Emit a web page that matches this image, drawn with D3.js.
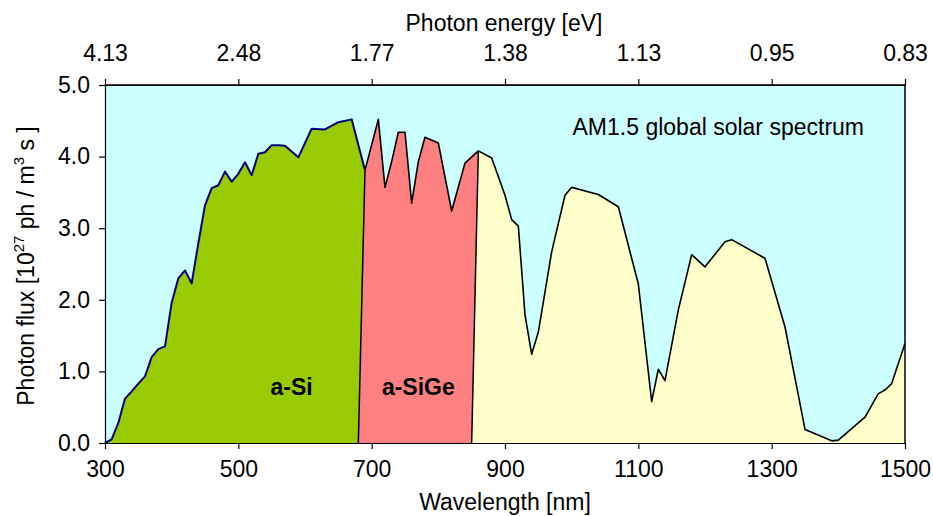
<!DOCTYPE html>
<html>
<head>
<meta charset="utf-8">
<title>AM1.5 photon flux</title>
<script src="https://cdn.jsdelivr.net/npm/d3@7"></script>
<style>
  body { margin: 0; background: #fff; }
  svg text { font-family: "Liberation Sans", Arial, sans-serif; fill: #000; }
  .axis path, .axis line { stroke: #000; stroke-width: 1.2px; }
  .axis text { font-size: 23px; font-family: "Liberation Sans", Arial, sans-serif; }
</style>
</head>
<body>
<script>
// AM1.5 global spectrum, photon flux
var wavelength = [300,310,320,330,340,350,360,370,380,390,400,410,420,430,440,450,460,470,480,490,
  500,510,520,530,540,550,560,570,590,610,630,650,670,690,710,720,730,740,750,760,770,780,800,820,
  840,860,880,900,910,920,930,940,950,970,990,1000,1040,1070,1100,1120,1130,1140,1160,1180,1200,
  1230,1240,1290,1320,1350,1390,1400,1440,1460,1470,1480,1500];
var flux = [0,0.05,0.28,0.62,0.72,0.83,0.93,1.20,1.31,1.35,1.96,2.30,2.41,2.23,2.79,3.32,3.56,3.60,3.79,3.65,
  3.76,3.92,3.74,4.04,4.06,4.16,4.16,4.15,3.99,4.39,4.38,4.48,4.52,3.81,4.52,3.57,3.93,4.34,4.34,3.35,
  3.93,4.27,4.19,3.24,3.91,4.08,3.98,3.46,3.12,3.03,1.79,1.24,1.55,2.67,3.46,3.57,3.47,3.30,2.22,0.58,
  1.03,0.87,1.86,2.63,2.46,2.81,2.84,2.58,1.62,0.19,0.03,0.04,0.36,0.69,0.74,0.83,1.39];

var wlTicks = [300,500,700,900,1100,1300,1500];
var energyLabels = ["4.13","2.48","1.77","1.38","1.13","0.95","0.83"];
var fluxTicks = [0,1,2,3,4,5];

// absorber regions: [top wavelength on curve, bottom wavelength on axis]
var regionNames = ["a-Si","a-SiGe",""];
var regionEdges = [[300,300],[690,680],[860,850],[1500,1500]];
var regionColors = ["#99cc00","#ff8080","#ffffcc"];
var regionLine = ["#000080","#000","#000"];

var W = 933, H = 516;
var m = {left:105, right:28, top:85, bottom:73};

var svg = d3.select("body").append("svg")
  .attr("width", W).attr("height", H);

var x = d3.scaleLinear().domain([300,1500]).range([m.left, W - m.right]);
var y = d3.scaleLinear().domain([0,5]).range([H - m.bottom, m.top]);

var pts = wavelength.map(function(d, i) { return [d, flux[i]]; });
var line = d3.line().x(function(d) { return x(d[0]); }).y(function(d) { return y(d[1]); });

svg.append("rect")
  .attr("x", x(300)).attr("y", y(5))
  .attr("width", x(1500) - x(300)).attr("height", y(0) - y(5))
  .attr("fill", "#ccffff");

for (var r = 0; r < 3; r++) {
  var a = regionEdges[r], b = regionEdges[r+1];
  var seg = pts.filter(function(p) { return p[0] >= a[0] && p[0] <= b[0]; });
  var poly = [[a[1],0]].concat(seg).concat([[b[1],0]]);
  svg.append("path")
    .attr("d", line(poly) + "Z")
    .attr("fill", regionColors[r]);
  svg.append("path")
    .attr("d", line(seg))
    .attr("fill", "none")
    .attr("stroke", regionLine[r])
    .attr("stroke-width", r == 0 ? 2 : 1.6)
    .attr("stroke-linejoin", "round");
}
// slanted dividers
[1,2].forEach(function(k) {
  var e = regionEdges[k];
  var top = pts.filter(function(p) { return p[0] == e[0]; })[0];
  svg.append("path")
    .attr("d", line([[e[1],0], top]))
    .attr("stroke", "#000").attr("stroke-width", 1.5).attr("fill", "none");
});

// frame top/right
svg.append("path")
  .attr("d", "M" + x(300) + "," + y(5) + "H" + x(1500) + "V" + y(0))
  .attr("fill", "none").attr("stroke", "#000").attr("stroke-width", 1.5);

svg.append("g").attr("class", "axis")
  .attr("transform", "translate(0," + y(0) + ")")
  .call(d3.axisBottom(x).tickValues(wlTicks).tickSize(6).tickPadding(12).tickSizeOuter(0)
    .tickFormat(d3.format("d")));

svg.append("g").attr("class", "axis")
  .attr("transform", "translate(0," + y(5) + ")")
  .call(d3.axisTop(x).tickValues(wlTicks).tickSize(6).tickPadding(18).tickSizeOuter(0)
    .tickFormat(function(d, i) { return energyLabels[i]; }));

svg.append("g").attr("class", "axis")
  .attr("transform", "translate(" + x(300) + ",0)")
  .call(d3.axisLeft(y).tickValues(fluxTicks).tickSize(6).tickPadding(9).tickSizeOuter(0)
    .tickFormat(d3.format(".1f")));

svg.selectAll(".axis .domain").attr("stroke-width", 1.5);

svg.append("text")
  .attr("x", 504).attr("y", 31)
  .attr("text-anchor", "middle").style("font-size", "23px")
  .text("Photon energy [eV]");

svg.append("text")
  .attr("x", 505).attr("y", 510)
  .attr("text-anchor", "middle").style("font-size", "23px")
  .text("Wavelength [nm]");

var yl = svg.append("text")
  .attr("transform", "translate(34,266) rotate(-90)")
  .attr("text-anchor", "middle").style("font-size", "23px");
yl.append("tspan").text("Photon flux [10");
yl.append("tspan").attr("dy", -10).style("font-size", "15px").text("27");
yl.append("tspan").attr("dy", 10).text(" ph / m");
yl.append("tspan").attr("dy", -10).style("font-size", "15px").text("3");
yl.append("tspan").attr("dy", 10).text(" s ]");

svg.append("text")
  .attr("x", 864).attr("y", 135)
  .attr("text-anchor", "end").style("font-size", "23px")
  .text("AM1.5 global solar spectrum");

var labelX = [580, 770];
labelX.forEach(function(w, i) {
  svg.append("text")
    .attr("x", x(w)).attr("y", 395)
    .attr("text-anchor", "middle")
    .style("font-size", "23px").style("font-weight", "bold")
    .text(regionNames[i]);
});
</script>
</body>
</html>
